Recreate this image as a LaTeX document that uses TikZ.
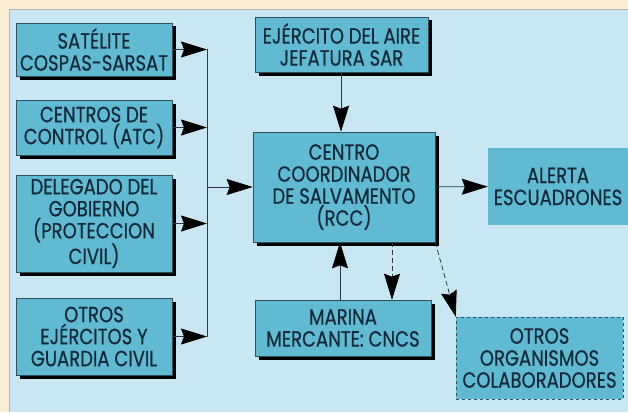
\documentclass[tikz,border=0pt]{standalone}
\usepackage{fontspec}
\setmainfont{Poppins}[FakeStretch=0.82,FakeBold=0.5]
\usetikzlibrary{arrows.meta,shadows}
\definecolor{papel}{HTML}{F9EED4}
\definecolor{panel}{HTML}{C8E7F2}
\definecolor{relleno}{HTML}{5FBAD2}
\definecolor{tinta}{HTML}{142838}
\definecolor{borde}{HTML}{2F4F5E}
\definecolor{linea}{HTML}{2A3A44}

\begin{document}
\begin{tikzpicture}[x=1pt,y=-1pt, texto/.style={font={\fontsize{22}{22}\selectfont},text=tinta,align=center,inner sep=1pt},
    caja/.style={texto,draw=borde,fill=relleno,line width=0.6pt,
        drop shadow={fill=black,opacity=1,shadow xshift=3.5pt,shadow yshift=-3.5pt}},
    flecha/.style={draw=linea,line width=0.8pt,-{Stealth[length=26pt,width=16pt,inset=3pt,color=black]}},
    punteada/.style={flecha,dash pattern=on 5pt off 3pt}]
\useasboundingbox (0,0) rectangle (628,412);
\fill[panel] (0,0) rectangle (628,412);
\fill[papel] (0,0) rectangle (628,9) (0,0) rectangle (9,412);
\draw[gray!60] (9,412) -- (9,9) -- (628,9);

\node[caja,minimum width=156pt,minimum height=53pt] (sat) at (94,49.5) {SATÉLITE\\COSPAS-SARSAT};
\node[caja,minimum width=156pt,minimum height=55pt] (atc) at (94,127.5) {CENTROS DE\\CONTROL (ATC)};
\node[caja,minimum width=156pt,minimum height=97pt] (del) at (94,223.5) {DELEGADO DEL\\GOBIERNO\\(PROTECCION\\CIVIL)};
\node[caja,minimum width=156pt,minimum height=77pt] (ejer) at (94,336.5) {OTROS\\EJÉRCITOS Y\\GUARDIA CIVIL};
\node[caja,minimum width=173pt,minimum height=55pt] (aire) at (341.5,44.5) {EJÉRCITO DEL AIRE\\JEFATURA SAR};
\node[caja,minimum width=182pt,minimum height=110pt] (rcc) at (344,187) {CENTRO\\COORDINADOR\\DE SALVAMENTO\\(RCC)};
\node[caja,minimum width=176pt,minimum height=56pt] (marina) at (343,328) {MARINA\\MERCANTE: CNCS};
\node[texto,fill=relleno,minimum width=140pt,minimum height=77pt] (alerta) at (558,186.5) {ALERTA\\ESCUADRONES};
\node[texto,fill=relleno,draw=borde,dashed,minimum width=167pt,minimum height=82pt] (org) at (539.5,358) {OTROS\\ORGANISMOS\\COLABORADORES};

% bus de entrada
\coordinate (bus1) at (207,49.5);
\coordinate (bus2) at (207,127.5);
\coordinate (bus3) at (207,223.5);
\coordinate (bus4) at (207,336.5);
\coordinate (busc) at (207,187);
\draw[linea,line width=0.8pt] (bus1) -- (bus4);
\foreach \a/\b in {sat/bus1,atc/bus2,del/bus3,ejer/bus4}
    \draw[flecha] (\a.east) -- (\b);
\draw[flecha] (busc) -- (rcc.west);

\coordinate (a1) at (341,0);
\coordinate (m1) at (340,0);
\coordinate (m2) at (392,0);
\draw[flecha] (a1 |- aire.south) -- (a1 |- rcc.north);
\draw[flecha] (rcc) -- (alerta);
\draw[flecha] (m1 |- marina.north) -- (m1 |- rcc.south);
\draw[punteada] (m2 |- rcc.south) -- (m2 |- marina.north);
\draw[punteada] (rcc.south east) -- (org.north west);
\end{tikzpicture}
\end{document}
